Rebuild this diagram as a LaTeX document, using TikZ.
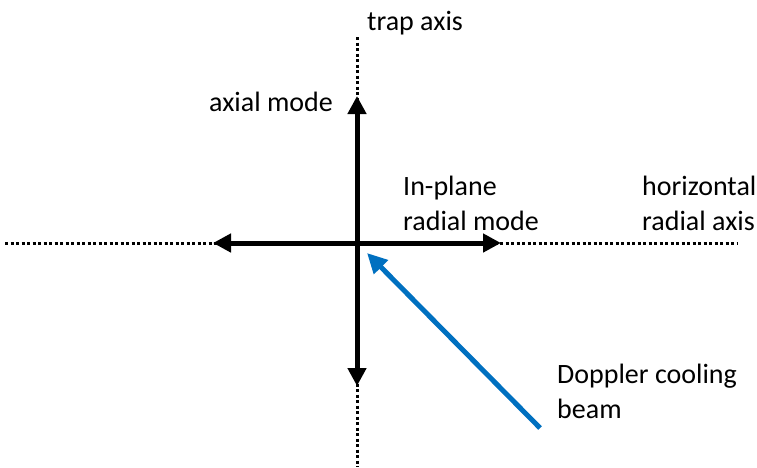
\documentclass[tikz,border=0pt]{standalone}
\usepackage{fontspec}
\setmainfont{Carlito}
\usetikzlibrary{arrows.meta}
\definecolor{beamblue}{HTML}{0070C0}
\begin{document}
\begin{tikzpicture}[x=1pt,y=-1pt,
  axisline/.style={line width=3pt,dash pattern=on 3pt off 2.5pt},
  modearrow/.style={line width=5pt,-{Triangle[length=18pt,width=18pt]}},
  beamarrow/.style={line width=5pt,draw=beamblue,-{Triangle[length=20pt,width=19pt]}},
  lbl/.style={inner sep=0pt,anchor=base west,font=\fontsize{28}{35}\selectfont,align=left}]
\useasboundingbox (0,0) rectangle (757,467);
\coordinate (c) at (357,243);
\coordinate (vtop) at (357,37);
\coordinate (vbot) at (357,467);
\coordinate (hl) at (5,243);
\coordinate (hr) at (738,243);
\coordinate (up) at (357,96);
\coordinate (down) at (357,386);
\coordinate (left) at (213,243);
\coordinate (right) at (501,243);
\coordinate (beamtail) at (540,428);
\coordinate (beamtip) at (367,253);
\draw[axisline] (vtop) -- (vbot);
\draw[axisline] (hl) -- (hr);
\draw[modearrow] (c) -- (up);
\draw[modearrow] (c) -- (down);
\draw[modearrow] (c) -- (left);
\draw[modearrow] (c) -- (right);
\draw[beamarrow] (beamtail) -- (beamtip);
\node[lbl] (trap) at (367,30) {trap axis};
\node[lbl] (axial) at (209,111) {axial mode};
\node[lbl] (inplane) at (403,230) {In-plane\\radial mode};
\node[lbl] (horiz) at (642,230) {horizontal\\radial axis};
\node[lbl] (doppler) at (557,418) {Doppler cooling\\beam};
\end{tikzpicture}
\end{document}
